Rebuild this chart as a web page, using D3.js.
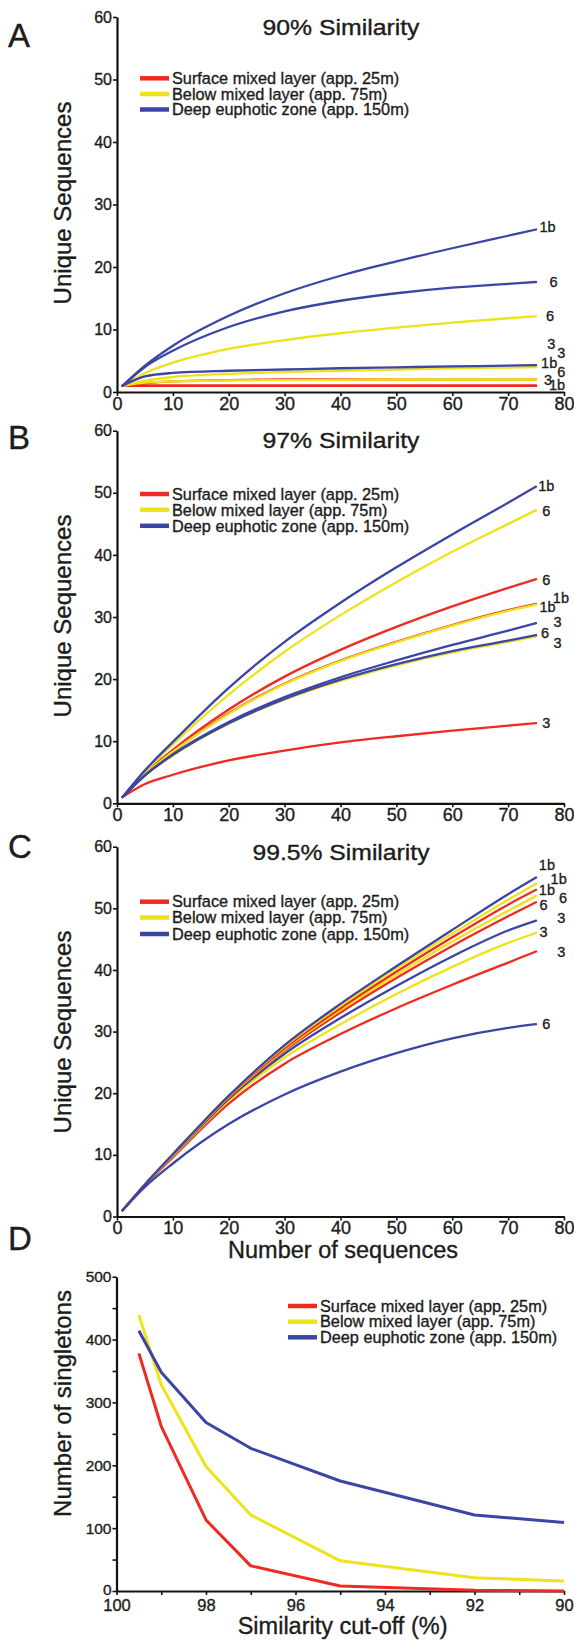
<!DOCTYPE html>
<html>
<head>
<meta charset="utf-8">
<script src="https://cdn.jsdelivr.net/npm/d3@7"></script>
<style>
  body { margin: 0; background: #fff; }
  svg { display: block; }
  text { font-family: "Liberation Sans", Arial, Helvetica, sans-serif; fill: #1c1c1c;
         stroke: #1c1c1c; stroke-width: 0.35px; }
</style>
</head>
<body>
<svg id="fig" width="574" height="1641"></svg>
<script>
// ---- data ----------------------------------------------------------------
// Rarefaction curves: number of sequences sampled vs. unique sequences
const sampleSizes = [1, 5, 10, 20, 30, 40, 50, 60, 70, 75];

const depthNames = [
  "Surface mixed layer (app. 25m)",
  "Below mixed layer (app. 75m)",
  "Deep euphotic zone (app. 150m)"
];
const depthColors = ["#ef2a20", "#eee31a", "#3a45a6"];

// depth: 0 = surface, 1 = below mixed layer, 2 = deep euphotic; site = station label
const curves90 = [
  { depth: 0, site: "1b", values: [1, 1, 1, 1, 1, 1, 1, 1, 1, 1] },
  { depth: 0, site: "3",  values: [1, 1, 1, 1, 1, 1, 1, 1, 1, 1] },
  { depth: 0, site: "6",  values: [1, 1.4, 1.7, 1.9, 2, 2, 2, 2, 2, 2] },
  { depth: 1, site: "3",  values: [1, 1.5, 1.7, 1.85, 1.9, 1.95, 2, 2, 2, 2] },
  { depth: 1, site: "1b", values: [1, 1.8, 2.4, 2.9, 3.2, 3.4, 3.6, 3.8, 3.9, 4.0] },
  { depth: 1, site: "6",  values: [1, 3.0, 4.7, 6.9, 8.3, 9.4, 10.3, 11.1, 11.8, 12.1] },
  { depth: 2, site: "3",  values: [1, 2.5, 3.05, 3.4, 3.6, 3.8, 3.95, 4.1, 4.22, 4.3] },
  { depth: 2, site: "6",  values: [1, 4.0, 6.6, 10.4, 12.9, 14.6, 15.8, 16.7, 17.3, 17.6] },
  { depth: 2, site: "1b", values: [1, 4.2, 7.4, 12.2, 15.8, 18.6, 20.9, 23.0, 25.0, 26] }
];

const curves97 = [
  { depth: 0, site: "3",  values: [1, 3.1, 4.6, 6.9, 8.5, 9.8, 10.8, 11.7, 12.5, 12.9] },
  { depth: 0, site: "1b", values: [1, 4.7, 8.3, 14.5, 19.3, 23, 26, 28.7, 31.1, 32.1] },
  { depth: 0, site: "6",  values: [1, 4.8, 8.6, 15.1, 20.4, 24.7, 28.4, 31.7, 34.7, 36.1] },
  { depth: 1, site: "3",  values: [1, 4.5, 7.7, 12.8, 16.7, 19.7, 22.2, 24.3, 26, 26.9] },
  { depth: 1, site: "1b", values: [1, 4.7, 8.3, 14.4, 19.2, 22.9, 25.9, 28.6, 31, 32] },
  { depth: 1, site: "6",  values: [1, 5.1, 9.5, 17.5, 24.4, 30.3, 35.6, 40.5, 45, 47.2] },
  { depth: 2, site: "6",  values: [1, 4.5, 7.8, 12.9, 16.8, 19.9, 22.4, 24.5, 26.2, 27.1] },
  { depth: 2, site: "3",  values: [1, 4.5, 7.9, 13.1, 17.1, 20.3, 23, 25.5, 27.8, 29] },
  { depth: 2, site: "1b", values: [1, 5.3, 9.9, 18.6, 26, 32.3, 38, 43.3, 48.4, 51] }
];

const curves995 = [
  { depth: 0, site: "3",  values: [1, 5.1, 9.6, 18.3, 24.8, 29.6, 33.8, 37.6, 41.2, 43] },
  { depth: 1, site: "3",  values: [1, 5.2, 9.8, 18.8, 25.8, 31.2, 36.1, 40.5, 44.4, 46] },
  { depth: 2, site: "3",  values: [1, 5.2, 9.9, 19.1, 26.4, 32.2, 37.4, 42.2, 46.4, 48] },
  { depth: 0, site: "6",  values: [1, 5.2, 10, 19.3, 26.9, 33.1, 38.7, 43.9, 48.7, 51] },
  { depth: 1, site: "6",  values: [1, 5.2, 10, 19.4, 27.1, 33.5, 39.2, 44.6, 49.6, 52] },
  { depth: 0, site: "1b", values: [1, 5.2, 10.1, 19.5, 27.3, 33.8, 39.7, 45.3, 50.6, 53] },
  { depth: 1, site: "1b", values: [1, 5.2, 10.1, 19.6, 27.6, 34.2, 40.2, 45.9, 51.4, 54] },
  { depth: 2, site: "1b", values: [1, 5.2, 10.1, 19.6, 27.8, 34.5, 40.6, 46.5, 52.3, 55] },
  { depth: 2, site: "6",  values: [1, 4.8, 8.6, 15.0, 19.8, 23.5, 26.5, 28.9, 30.6, 31.2] }
];

// Singletons vs. similarity cut-off
const cutoffs = [99.5, 99, 98, 97, 95, 92, 90];
const singletonsSurface = [378, 262, 113, 40, 8, 1, 0];
const singletonsBelow   = [439, 328, 198, 121, 48, 21, 16];
const singletonsDeep    = [414, 348, 268, 227, 175, 121, 109];

const seqTicks = [0, 10, 20, 30, 40, 50, 60, 70, 80];
const uniqueTicks = [0, 10, 20, 30, 40, 50, 60];
const cutoffTicks = [100, 99, 98, 97, 96, 95, 94, 93, 92, 91, 90];
const cutoffLabels = [100, 98, 96, 94, 92, 90];
const singletonTicks = [0, 50, 100, 150, 200, 250, 300, 350, 400, 450, 500];
const singletonLabels = [0, 100, 200, 300, 400, 500];

// ---- layout (site-label anchors in data units, same order as the curves) ----
const labelAt90 = [[77.3, 1.2], [78.8, 6.3], [78.8, 3.3], [76.4, 1.9], [75.9, 4.6],
                   [76.8, 12.2], [77.0, 7.7], [77.4, 17.6], [75.6, 26.4]];
const labelAt97 = [[76.1, 12.9], [78.0, 33.1], [76.1, 36.0], [78.1, 25.8], [75.6, 31.7],
                   [76.1, 47.1], [75.9, 27.5], [78.1, 29.2], [75.4, 51.1]];
const labelAt995 = [[78.8, 42.9], [75.6, 46.2], [78.8, 48.4], [75.6, 50.6], [79.1, 51.7],
                    [75.5, 53.0], [77.6, 54.8], [75.5, 57.0], [76.1, 31.3]];

const svg = d3.select("#fig");

function styleAxis(g) {
  g.select(".domain").attr("stroke", "#111").attr("stroke-width", 2.2);
  g.selectAll(".tick line").attr("stroke", "#111").attr("stroke-width", 1.6);
  g.selectAll(".tick text").filter(function () { return this.textContent === ""; }).remove();
}

function legend(x0, rows) {
  const g = svg.append("g");
  depthNames.forEach((name, i) => {
    g.append("line")
      .attr("x1", x0).attr("x2", x0 + 29)
      .attr("y1", rows[i]).attr("y2", rows[i])
      .attr("stroke", depthColors[i]).attr("stroke-width", 4.5);
    g.append("text")
      .attr("x", x0 + 32).attr("y", rows[i]).attr("dy", "0.35em")
      .attr("font-size", 16.3).text(name);
  });
}

function rarefactionPanel(opt) {
  const x = d3.scaleLinear().domain([0, 80]).range([117, 564]);
  const y = d3.scaleLinear().domain([0, 60]).range([opt.bottom, opt.top]);

  const gx = svg.append("g").attr("transform", `translate(0,${opt.bottom})`)
    .call(d3.axisBottom(x).tickValues(seqTicks).tickSize(4).tickSizeOuter(0).tickPadding(1));
  gx.selectAll(".tick text").attr("font-size", 18);
  styleAxis(gx);

  const gy = svg.append("g").attr("transform", `translate(117,0)`)
    .call(d3.axisLeft(y).tickValues(uniqueTicks).tickSize(4).tickSizeOuter(0).tickPadding(1));
  gy.selectAll(".tick text").attr("font-size", 16);
  styleAxis(gy);

  const line = d3.line()
    .x((d, i) => x(sampleSizes[i]))
    .y(d => y(d))
    .curve(d3.curveMonotoneX);

  svg.append("g").selectAll("path").data(opt.curves).join("path")
    .attr("d", d => line(d.values))
    .attr("fill", "none")
    .attr("stroke", d => depthColors[d.depth])
    .attr("stroke-width", 2.3)
    .attr("stroke-linecap", "round");

  svg.append("g").selectAll("text").data(opt.curves).join("text")
    .attr("x", (d, i) => x(opt.labels[i][0]))
    .attr("y", (d, i) => y(opt.labels[i][1]))
    .attr("dy", "0.36em")
    .attr("font-size", 14.5)
    .text(d => d.site);

  svg.append("text")
    .attr("x", 341).attr("y", opt.titleY)
    .attr("text-anchor", "middle").attr("font-size", 21.5)
    .attr("textLength", opt.titleLen).attr("lengthAdjust", "spacingAndGlyphs")
    .text(opt.title);

  svg.append("text")
    .attr("transform", `translate(71,${opt.ylabelY}) rotate(-90)`)
    .attr("text-anchor", "middle").attr("font-size", 24)
    .text("Unique Sequences");

  svg.append("text").attr("x", 8).attr("y", opt.letterY)
    .attr("font-size", 33).text(opt.letter);

  legend(140, opt.legendRows);
}

rarefactionPanel({ letter: "A", letterY: 47, title: "90% Similarity", titleY: 35, titleLen: 157,
  top: 17, bottom: 392, curves: curves90, labels: labelAt90, ylabelY: 203,
  legendRows: [78.3, 94, 109.5] });
rarefactionPanel({ letter: "B", letterY: 449, title: "97% Similarity", titleY: 448, titleLen: 157,
  top: 430.7, bottom: 803.3, curves: curves97, labels: labelAt97, ylabelY: 616,
  legendRows: [494, 509.8, 525.8] });
rarefactionPanel({ letter: "C", letterY: 858, title: "99.5% Similarity", titleY: 860, titleLen: 177,
  top: 846.7, bottom: 1216.5, curves: curves995, labels: labelAt995, ylabelY: 1032,
  legendRows: [901.7, 917.5, 934] });

svg.append("text")
  .attr("x", 343).attr("y", 1258).attr("text-anchor", "middle")
  .attr("font-size", 23.5).text("Number of sequences");

// ---- panel D: singletons ---------------------------------------------------
{
  const x = d3.scaleLinear().domain([100, 90]).range([116.5, 564]);
  const y = d3.scaleLinear().domain([0, 500]).range([1591, 1276.7]);

  const gx = svg.append("g").attr("transform", "translate(0,1591)")
    .call(d3.axisBottom(x).tickValues(cutoffTicks).tickSize(4).tickSizeOuter(0).tickPadding(4)
      .tickFormat(d => cutoffLabels.includes(d) ? d : ""));
  gx.selectAll(".tick text").attr("font-size", 16.5);
  styleAxis(gx);

  const gy = svg.append("g").attr("transform", "translate(116.5,0)")
    .call(d3.axisLeft(y).tickValues(singletonTicks).tickSize(4).tickSizeOuter(0).tickPadding(1)
      .tickFormat(d => singletonLabels.includes(d) ? d : ""));
  gy.selectAll(".tick text").attr("font-size", 15.5);
  styleAxis(gy);
  // lift the zero label slightly so it clears the "100" below the corner
  gy.selectAll(".tick").filter(d => d === 0).select("text").attr("dy", "0.2em");

  const series = [
    { depth: 0, values: singletonsSurface },
    { depth: 1, values: singletonsBelow },
    { depth: 2, values: singletonsDeep }
  ];
  const line = d3.line().x((d, i) => x(cutoffs[i])).y(d => y(d));
  svg.append("g").selectAll("path").data(series).join("path")
    .attr("d", d => line(d.values))
    .attr("fill", "none")
    .attr("stroke", d => depthColors[d.depth])
    .attr("stroke-width", 3)
    .attr("stroke-linejoin", "round");

  svg.append("text")
    .attr("transform", "translate(71,1403.5) rotate(-90)")
    .attr("text-anchor", "middle").attr("font-size", 24)
    .text("Number of singletons");

  svg.append("text")
    .attr("x", 342.6).attr("y", 1634).attr("text-anchor", "middle")
    .attr("font-size", 23.5).text("Similarity cut-off (%)");

  svg.append("text").attr("x", 8).attr("y", 1250)
    .attr("font-size", 33).text("D");

  legend(288, [1306, 1321.7, 1337.3]);
}
</script>
</body>
</html>
